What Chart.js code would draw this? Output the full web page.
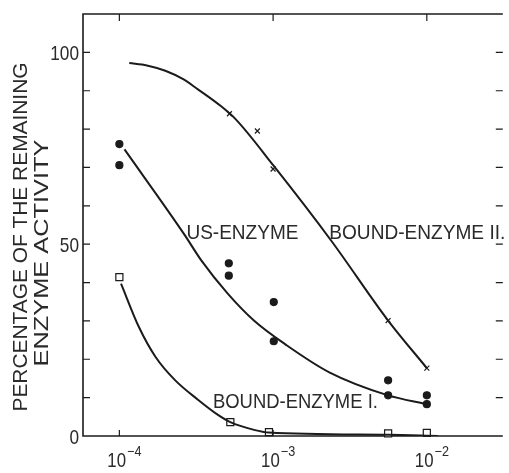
<!DOCTYPE html>
<html>
<head>
<meta charset="utf-8">
<script src="https://cdn.jsdelivr.net/npm/chart.js@4.4.0/dist/chart.umd.min.js"></script>
<style>
  html, body { margin: 0; padding: 0; background: #fff; }
  #wrap { width: 509px; height: 473px; position: relative; }
</style>
</head>
<body>
<div id="wrap"><canvas id="c"></canvas></div>
<script>
// measured points: concentration (M) vs remaining activity (%)
const bound2Conc = [5.2e-4, 7.9e-4, 1.0e-3, 5.6e-3, 1.0e-2];
const bound2Pct  = [84.0, 79.5, 69.6, 30.1, 17.7];

const usConc = [1.0e-4, 1.0e-4, 5.15e-4, 5.15e-4, 1.01e-3, 1.01e-3, 5.6e-3, 5.6e-3, 1.0e-2, 1.0e-2];
const usPct  = [76.1, 70.6, 45.0, 41.8, 34.9, 24.7, 14.5, 10.6, 10.6, 8.3];

const bound1Conc = [1.0e-4, 5.27e-4, 9.4e-4, 5.6e-3, 1.0e-2];
const bound1Pct  = [41.4, 3.6, 1.0, 0.7, 0.8];

// hand-fitted curves through each series
const bound2CurveConc = [1.16e-4, 1.51e-4, 1.99e-4, 2.6e-4, 3.26e-4, 4.57e-4, 5.7e-4, 1.01e-3, 2.39e-3, 5.6e-3, 1.0e-2];
const bound2CurvePct  = [97.2, 96.6, 95.2, 93.0, 90.3, 86.0, 82.6, 70.4, 50.9, 30.1, 17.7];

const usCurveConc = [1.08e-4, 2.65e-4, 3.42e-4, 5.07e-4, 7.5e-4, 1.23e-3, 2.32e-3, 5.6e-3, 1.0e-2];
const usCurvePct  = [74.7, 52.5, 45.7, 37.1, 30.1, 23.6, 16.6, 10.6, 8.3];

const bound1CurveConc = [1.025e-4, 1.34e-4, 1.72e-4, 2.31e-4, 3.26e-4, 4.38e-4, 5.27e-4, 7.52e-4, 9.4e-4, 5.6e-3, 1.18e-2];
const bound1CurvePct  = [39.7, 28.4, 20.6, 14.5, 9.4, 5.5, 3.6, 1.6, 0.9, 0.3, 0];

// axis ticks
const xTicks = [1e-4, 1e-3, 1e-2];
const xTickExp = ['-4', '-3', '-2'];
const yTicks = [10, 20, 30, 40, 50, 60, 70, 80, 90, 100];
const yLabels = [0, 50, 100];

const ink = '#1b1b1b';
const FONT = '"Liberation Sans", Arial, sans-serif';

function xy(xs, ys) {
  return xs.map((x, i) => ({ x: x, y: ys[i] }));
}

function drawLabel(ctx, str, x, y, o) {
  ctx.save();
  ctx.font = (o.size || 21) + 'px ' + FONT;
  ctx.fillStyle = '#2a2a2a';
  ctx.textBaseline = 'alphabetic';
  ctx.textAlign = 'left';
  const w = ctx.measureText(str).width;
  const sx = o.width ? o.width / w : (o.squeeze || 1);
  let dx = 0;
  if (o.align === 'right') dx = -w;
  else if (o.align === 'center') dx = -w / 2;
  ctx.translate(x, y);
  if (o.angle) ctx.rotate(o.angle);
  ctx.scale(sx, 1);
  ctx.fillText(str, dx, 0);
  ctx.restore();
  return w * sx;
}

const paperAxes = {
  id: 'paperAxes',
  beforeDatasetsDraw(chart) {
    const { ctx, chartArea: a, scales: { x, y } } = chart;
    ctx.save();
    ctx.strokeStyle = ink;
    ctx.lineWidth = 1.6;
    ctx.beginPath();
    ctx.moveTo(a.right, a.top);
    ctx.lineTo(a.left, a.top);
    ctx.lineTo(a.left, a.bottom);
    ctx.lineTo(a.right, a.bottom);
    ctx.stroke();

    // inward tick marks
    ctx.lineWidth = 1.2;
    ctx.beginPath();
    yTicks.forEach(v => {
      const py = y.getPixelForValue(v);
      ctx.moveTo(a.left, py); ctx.lineTo(a.left + 7, py);
      ctx.moveTo(a.right, py); ctx.lineTo(a.right - 7, py);
    });
    xTicks.forEach(v => {
      const px = x.getPixelForValue(v);
      ctx.moveTo(px, a.bottom); ctx.lineTo(px, a.bottom - 6);
      ctx.moveTo(px, a.top); ctx.lineTo(px, a.top + 7);
    });
    ctx.stroke();
    ctx.restore();

    yLabels.forEach(v => {
      drawLabel(ctx, String(v), a.left - 4, y.getPixelForValue(v) + 7.5, { align: 'right', squeeze: 0.82 });
    });
    xTicks.forEach((v, i) => {
      const px = x.getPixelForValue(v);
      const w = drawLabel(ctx, '10', px - 12, a.bottom + 31, { squeeze: 0.8 });
      drawLabel(ctx, '\u2212' + xTickExp[i].slice(1), px - 11 + w, a.bottom + 20, { size: 14, squeeze: 0.9 });
    });

    drawLabel(ctx, 'PERCENTAGE OF THE REMAINING', 27, 237, { width: 349, align: 'center', angle: -Math.PI / 2 });
    drawLabel(ctx, 'ENZYME ACTIVITY', 48, 253, { width: 227, align: 'center', angle: -Math.PI / 2 });
  },
  afterDatasetsDraw(chart) {
    const { ctx, scales: { x, y } } = chart;
    drawLabel(ctx, 'US-ENZYME', x.getPixelForValue(2.73e-4), y.getPixelForValue(51.4), { width: 112 });
    drawLabel(ctx, 'BOUND-ENZYME II.', x.getPixelForValue(2.32e-3), y.getPixelForValue(51.4), { width: 176 });
    drawLabel(ctx, 'BOUND-ENZYME I.', x.getPixelForValue(4.06e-4), y.getPixelForValue(7.3), { width: 165 });
  }
};

function curve(xs, ys) {
  return {
    data: xy(xs, ys),
    borderColor: ink,
    borderWidth: 2,
    pointRadius: 0,
    cubicInterpolationMode: 'monotone',
    fill: false
  };
}

function marks(xs, ys, style, radius, fillColor) {
  return {
    data: xy(xs, ys),
    showLine: false,
    pointStyle: style,
    pointRadius: radius,
    pointBorderWidth: 1.2,
    pointBorderColor: ink,
    pointBackgroundColor: fillColor,
    clip: false
  };
}

new Chart(document.getElementById('c'), {
  type: 'line',
  data: {
    datasets: [
      curve(bound2CurveConc, bound2CurvePct),
      curve(usCurveConc, usCurvePct),
      curve(bound1CurveConc, bound1CurvePct),
      marks(bound2Conc, bound2Pct, 'crossRot', 3.5, ink),
      marks(usConc, usPct, 'circle', 3.5, ink),
      marks(bound1Conc, bound1Pct, 'rect', 5, '#fff')
    ]
  },
  options: {
    animation: false,
    responsive: true,
    maintainAspectRatio: false,
    layout: { padding: { left: 83, right: 0, top: 14, bottom: 37 } },
    scales: {
      x: { type: 'logarithmic', min: 5.8e-5, max: 3.12e-2, display: false },
      y: { type: 'linear', min: 0, max: 110, display: false }
    },
    plugins: { legend: { display: false }, tooltip: { enabled: false } }
  },
  plugins: [paperAxes]
});
</script>
</body>
</html>
